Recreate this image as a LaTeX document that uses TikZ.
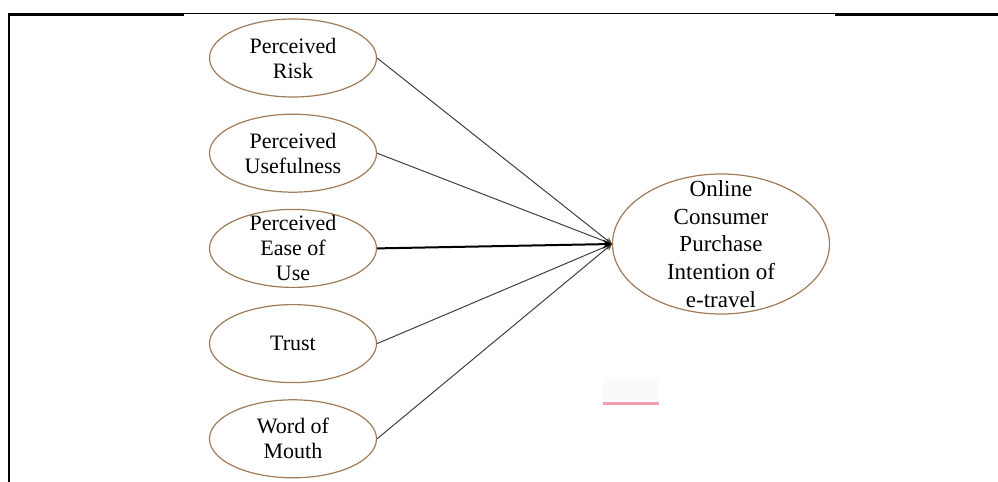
\documentclass[tikz,border=0pt]{standalone}
\usepackage{fontspec}
\setmainfont{Liberation Serif}
\usepackage{xcolor}
\usetikzlibrary{shapes.geometric, arrows, positioning}
\definecolor{ovalbrown}{RGB}{158,124,90}
\definecolor{markpink}{RGB}{244,160,172}
\tikzstyle{factor} = [ellipse, minimum width=83.5pt, minimum height=39pt, inner xsep=0pt, inner ysep=-8pt, align=center, draw=ovalbrown, line width=0.6pt, text=black, font=\fontsize{11}{12.5}\selectfont]
\tikzstyle{outcome} = [ellipse, minimum width=108.5pt, minimum height=70pt, inner xsep=0pt, inner ysep=-10pt, align=center, draw=ovalbrown, line width=0.6pt, text=black, font=\fontsize{11.5}{13.8}\selectfont]
\tikzstyle{arrow} = [line width=0.5pt, draw=black!75, ->, >=stealth]
\tikzstyle{border} = [line width=1.2pt, black]

\begin{document}
\begin{tikzpicture}[x=0.5pt, y=-0.5pt, node distance=8pt]
\useasboundingbox (0,0) rectangle (998,482);

% Frame
\draw [border] (9,482) -- (9,14.5) -- (184,14.5);
\draw [line width=0.5pt] (184,13.5) -- (835,13.5);
\draw [border] (835,14.5) -- (998,14.5);

% Factors - left column
\node (risk) [factor] at (293,58) {Perceived\\Risk};
\node (usefulness) [factor, below=of risk] {Perceived\\Usefulness};
\node (ease) [factor, below=of usefulness] {Perceived\\Ease of\\Use};
\node (trust) [factor, below=of ease] {Trust};
\node (wom) [factor, below=of trust] {Word of\\Mouth};

% Outcome
\node (intention) [outcome] at (721,244) {Online\\Consumer\\Purchase\\Intention of\\e-travel};

% Arrows
\draw [arrow] (risk.east) -- (intention.west);
\draw [arrow] (usefulness.east) -- (intention.west);
\draw [arrow] (trust.east) -- (intention.west);
\draw [arrow] (wom.east) -- (intention.west);
\draw [arrow, line width=1pt, draw=black] (ease.east) -- (intention.west);

% Mark
\fill [black!2] (603,377) rectangle (659,400);
\draw [markpink, line width=1.5pt] (603,403) -- (659,403);

\end{tikzpicture}
\end{document}
